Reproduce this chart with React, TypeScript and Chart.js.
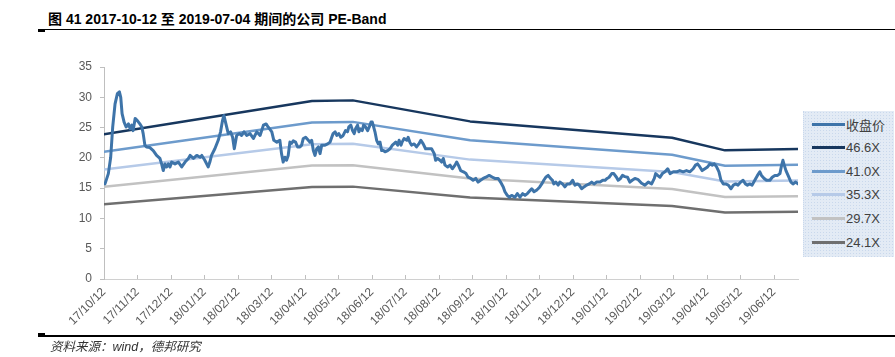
import React, { useEffect, useRef } from "react";
import { Chart, registerables } from "chart.js";
Chart.register(...registerables);

const TITLE = "图 41 2017-10-12 至 2019-07-04 期间的公司 PE-Band";
const SOURCE = "资料来源：wind，德邦研究";

// x axis: months since 2017-10-12 (one tick per month)
const monthLabels = [
  "17/10/12", "17/11/12", "17/12/12", "18/01/12", "18/02/12", "18/03/12", "18/04/12",
  "18/05/12", "18/06/12", "18/07/12", "18/08/12", "18/09/12", "18/10/12", "18/11/12",
  "18/12/12", "19/01/12", "19/02/12", "19/03/12", "19/04/12", "19/05/12", "19/06/12",
];
const xMax = 20.72; // 2019-07-04

const yTicks = { min: 0, max: 35, step: 5 };

// 收盘价 (close price), months since start / value
const priceMonths = [
  0.03, 0.13, 0.20, 0.26, 0.33, 0.40, 0.46, 0.50, 0.54, 0.60, 0.66, 0.73, 0.78, 0.83, 0.87, 0.93, 0.99, 1.07, 1.13, 1.17,
  1.22, 1.27, 1.37, 1.47, 1.57, 1.67, 1.72, 1.77, 1.82, 1.87, 1.92, 1.97, 2.02, 2.12, 2.22, 2.32, 2.42, 2.52, 2.57, 2.67,
  2.77, 2.87, 2.92, 3.01, 3.11, 3.16, 3.21, 3.31, 3.41, 3.48, 3.54, 3.58, 3.64, 3.71, 3.78, 3.84, 3.89, 3.96, 4.04, 4.11,
  4.18, 4.26, 4.36, 4.46, 4.56, 4.66, 4.76, 4.84, 4.90, 5.01, 5.07, 5.16,
  5.25, 5.30, 5.35, 5.40, 5.45, 5.50, 5.55, 5.60, 5.65, 5.72, 5.78, 5.85, 5.90, 5.95, 6.02, 6.10, 6.15, 6.20, 6.25, 6.30,
  6.35, 6.40, 6.45, 6.50, 6.60, 6.68, 6.75, 6.80, 6.84, 6.90, 6.95, 7.01, 7.07, 7.14, 7.21, 7.27, 7.31, 7.37, 7.42, 7.47,
  7.51, 7.57, 7.61, 7.65, 7.71, 7.75, 7.81, 7.87, 7.92, 7.97, 8.01, 8.05, 8.09, 8.14, 8.19, 8.24, 8.29, 8.34, 8.39, 8.47,
  8.54, 8.61, 8.67, 8.71, 8.77, 8.81, 8.87, 8.90, 8.96, 9.04, 9.08, 9.13, 9.18, 9.26, 9.33, 9.40, 9.46, 9.53, 9.60, 9.68,
  9.78, 9.86, 9.90, 9.96, 10.03, 10.08, 10.13, 10.18, 10.26, 10.33, 10.40,
  10.48, 10.53, 10.58, 10.65, 10.73, 10.81, 10.87, 10.95, 11.02, 11.10, 11.17, 11.24, 11.32, 11.40, 11.50, 11.60, 11.67, 11.77, 11.84, 11.92,
  11.97, 12.04, 12.10, 12.17, 12.27, 12.34, 12.42, 12.50, 12.57, 12.64, 12.72, 12.77, 12.84, 12.90, 12.96, 13.01, 13.07, 13.13, 13.19, 13.26,
  13.33, 13.39, 13.43, 13.49, 13.56, 13.61, 13.69, 13.76, 13.83, 13.91, 13.99, 14.06, 14.13, 14.19, 14.26, 14.33, 14.41, 14.49, 14.56, 14.63,
  14.71, 14.81, 14.89, 14.96, 15.02, 15.08, 15.16, 15.22, 15.30, 15.35, 15.42, 15.48, 15.55,
  15.63, 15.70, 15.77, 15.85, 15.95, 16.05, 16.15, 16.25, 16.35, 16.43, 16.47, 16.53, 16.60, 16.67, 16.75, 16.83, 16.90, 17.00, 17.10, 17.19,
  17.29, 17.39, 17.49, 17.59, 17.66, 17.72, 17.79, 17.86, 17.94, 18.02, 18.09, 18.16, 18.22, 18.29, 18.36, 18.42, 18.49, 18.56, 18.64, 18.72,
  18.79, 18.86, 18.93, 19.01, 19.08, 19.15, 19.21, 19.28, 19.35, 19.43, 19.51, 19.58, 19.63, 19.71, 19.78, 19.88, 19.95, 20.03, 20.11, 20.18,
  20.22, 20.27, 20.31, 20.36, 20.44, 20.51, 20.57, 20.65, 20.72,
];
const priceValues = [
  15.7, 17.4, 20.1, 25.1, 28.9, 30.6, 30.9, 30.0, 27.3, 25.9, 25.1, 25.6, 24.8, 25.4, 24.5, 26.5, 26.2, 25.6, 25.1, 24.0,
  22.1, 21.8, 21.7, 21.2, 20.4, 19.9, 19.0, 17.9, 19.0, 18.5, 19.0, 18.5, 19.3, 19.0, 19.3, 18.5, 19.3, 19.9, 20.4, 19.9,
  20.4, 20.1, 20.4, 19.6, 18.5, 19.3, 20.4, 21.5, 22.9, 24.3, 26.2, 27.0, 25.6, 24.0, 24.3, 23.4, 21.5, 23.7, 24.0, 23.7,
  24.3, 23.7, 24.0, 23.2, 24.3, 23.7, 25.4, 25.6, 25.1, 24.3, 22.9, 22.6,
  22.9, 20.7, 19.3, 20.1, 19.6, 20.4, 22.6, 22.4, 22.8, 22.6, 21.8, 21.8, 22.1, 23.2, 23.4, 22.9, 22.6, 22.9, 21.2, 20.4,
  21.5, 21.8, 20.7, 22.1, 22.1, 22.3, 22.6, 23.4, 24.0, 24.3, 23.7, 24.0, 23.4, 23.7, 24.5, 24.3, 25.1, 25.4, 24.5, 24.0,
  24.8, 25.4, 24.3, 24.8, 24.5, 25.4, 25.1, 24.5, 25.1, 25.9, 25.9, 25.1, 24.3, 22.9, 22.3, 22.6, 21.2, 21.2, 21.0, 21.2,
  21.5, 22.1, 22.4, 22.6, 22.1, 22.9, 22.1, 22.6, 23.2, 22.9, 23.4, 22.6, 22.1, 22.3, 21.8, 22.3, 22.9, 22.3, 21.5, 21.5,
  21.5, 20.7, 19.6, 19.9, 19.6, 19.3, 19.9, 18.8, 18.5, 18.8, 18.2,
  18.8, 19.3, 18.8, 17.9, 17.7, 17.4, 16.8, 16.6, 16.3, 16.6, 16.0, 16.3, 16.6, 16.8, 17.1, 16.8, 16.6, 16.6, 16.0, 15.2,
  14.4, 13.8, 13.5, 13.8, 13.5, 14.1, 13.5, 14.1, 13.8, 14.1, 14.6, 14.9, 14.4, 14.6, 14.9, 15.2, 15.7, 16.3, 16.8, 17.1,
  16.6, 16.3, 15.7, 16.0, 15.5, 16.0, 15.7, 15.2, 15.7, 15.7, 16.3, 15.5, 15.7, 15.5, 14.9, 15.2, 15.5, 15.7, 16.0, 15.7,
  16.0, 16.0, 16.3, 16.3, 16.6, 16.8, 17.4, 17.4, 16.8, 16.3, 16.6, 17.1, 16.9,
  16.8, 16.0, 16.3, 16.6, 16.4, 15.8, 15.5, 16.0, 15.7, 16.6, 17.4, 17.1, 16.8, 17.4, 17.7, 18.2, 17.4, 17.7, 17.7, 17.9,
  17.7, 17.9, 17.7, 18.2, 18.8, 19.0, 18.5, 17.9, 18.2, 18.5, 19.0, 18.8, 19.0, 18.5, 17.7, 16.3, 15.7, 15.7, 15.5, 14.9,
  15.5, 15.7, 15.5, 16.0, 16.3, 15.7, 15.5, 15.7, 15.5, 16.3, 17.1, 17.7, 17.1, 16.6, 16.3, 16.3, 16.8, 17.1, 17.1, 17.4,
  18.5, 19.6, 18.8, 17.9, 16.9, 16.0, 15.7, 16.0, 15.7,
];

// PE bands, knot dates (months since start)
const bandMonths = [0, 6.21, 7.43, 10.93, 16.96, 18.54, 20.72];
const band466 = [23.88, 29.37, 29.49, 26.02, 23.33, 21.24, 21.45];
const band410 = [21.01, 25.84, 25.94, 22.89, 20.52, 18.69, 18.87];
const band353 = [18.09, 22.25, 22.34, 19.71, 17.67, 16.09, 16.25];
const band297 = [15.22, 18.72, 18.79, 16.58, 14.87, 13.54, 13.67];
const band241 = [12.35, 15.19, 15.25, 13.46, 12.06, 10.98, 11.09];

const seriesNames = ["收盘价", "46.6X", "41.0X", "35.3X", "29.7X", "24.1X"];
const seriesColors = ["#3E74A9", "#17375E", "#6D9BCC", "#B6CAE8", "#C2C2C2", "#6F6F6F"];
const seriesWidths = [3, 2.5, 2.5, 2.5, 2.5, 2.5];

const FONT = "'Liberation Sans', Arial, 'Noto Sans CJK SC', sans-serif";

const innerXTicks = {
  id: "innerXTicks",
  beforeDatasetsDraw(chart: any) {
    const sx = chart.scales.x;
    const ctx = chart.ctx;
    ctx.save();
    ctx.strokeStyle = "#BFBFBF";
    ctx.lineWidth = 1;
    sx.ticks.forEach((t: any) => {
      const px = Math.round(sx.getPixelForValue(t.value)) + 0.5;
      ctx.beginPath();
      ctx.moveTo(px, sx.top);
      ctx.lineTo(px, sx.top - 4);
      ctx.stroke();
    });
    ctx.restore();
  },
};

export default function App() {
  const ref = useRef<HTMLCanvasElement>(null);

  useEffect(() => {
    const zip = (xs: number[], ys: number[]) => xs.map((x, i) => ({ x, y: ys[i] }));
    const seriesData = [
      zip(priceMonths, priceValues),
      zip(bandMonths, band466),
      zip(bandMonths, band410),
      zip(bandMonths, band353),
      zip(bandMonths, band297),
      zip(bandMonths, band241),
    ];
    const chart = new Chart(ref.current!, {
      type: "line",
      data: {
        datasets: seriesNames.map((name, i) => ({
          label: name,
          data: seriesData[i],
          borderColor: seriesColors[i],
          backgroundColor: seriesColors[i],
          borderWidth: seriesWidths[i],
          pointRadius: 0,
          tension: 0,
          fill: false,
          borderJoinStyle: "round" as const,
          borderCapStyle: "round" as const,
        })),
      },
      options: {
        animation: false,
        responsive: false,
        events: [],
        layout: { padding: { left: 0, right: 97, top: 67, bottom: 0 } },
        plugins: { legend: { display: false }, tooltip: { enabled: false } },
        scales: {
          x: {
            type: "linear",
            min: 0,
            max: xMax,
            afterBuildTicks: (s: any) => {
              s.ticks = monthLabels.map((_, i) => ({ value: i }));
            },
            afterFit: (s: any) => {
              s.height = 78;
            },
            grid: { drawOnChartArea: false, drawTicks: false },
            border: { display: true, color: "#D0D0D0", width: 1 },
            ticks: {
              autoSkip: false,
              minRotation: 45,
              maxRotation: 45,
              padding: 6,
              color: "#595959",
              font: { family: FONT, size: 12 },
              callback: (v: any) => monthLabels[Math.round(Number(v))] ?? "",
            },
          },
          y: {
            min: yTicks.min,
            max: yTicks.max,
            afterFit: (s: any) => {
              s.width = 104;
            },
            grid: { drawOnChartArea: false, drawTicks: true, tickLength: 4, color: "#BFBFBF" },
            border: { display: true, color: "#BFBFBF", width: 1 },
            ticks: {
              stepSize: yTicks.step,
              padding: 8,
              color: "#595959",
              font: { family: FONT, size: 12 },
            },
          },
        },
      },
      plugins: [innerXTicks],
    });
    return () => chart.destroy();
  }, []);

  return (
    <div
      style={{
        position: "fixed",
        left: 0,
        top: 0,
        width: 895,
        height: 357,
        background: "#fff",
        fontFamily: FONT,
        overflow: "hidden",
      }}
    >
      <div
        style={{
          position: "absolute",
          left: 48,
          top: 11,
          fontSize: 14,
          fontWeight: "bold",
          color: "#000",
          whiteSpace: "nowrap",
          lineHeight: "16px",
        }}
      >
        {TITLE}
      </div>
      <div style={{ position: "absolute", left: 38, top: 28.5, width: 857, height: 1, background: "#000" }} />
      <div style={{ position: "absolute", left: 38, top: 29.5, width: 7, height: 2, background: "#000" }} />
      <canvas ref={ref} width={895} height={357} style={{ position: "absolute", left: 0, top: 0 }} />
      <div
        style={{
          position: "absolute",
          left: 803,
          top: 111,
          width: 90,
          height: 146,
          backgroundColor: "#E3EBF5",
          backgroundImage: "radial-gradient(#C9D8EC 0.8px, transparent 1px)",
          backgroundSize: "3px 3px",
          borderLeft: "1px dotted #C9D8EC",
        }}
      >
        {seriesNames.map((name, i) => (
          <div
            key={name}
            style={{ position: "absolute", left: 8, top: 4 + i * 23.6, height: 18, display: "flex", alignItems: "center" }}
          >
            <div style={{ width: 33, height: 3, background: seriesColors[i] }} />
            <span style={{ fontSize: 13, color: "#404040", marginLeft: 1, whiteSpace: "nowrap" }}>{name}</span>
          </div>
        ))}
      </div>
      <div style={{ position: "absolute", left: 38, top: 333, width: 7, height: 2, background: "#000" }} />
      <div style={{ position: "absolute", left: 38, top: 335, width: 857, height: 1.5, background: "#000" }} />
      <div
        style={{
          position: "absolute",
          left: 50,
          top: 339,
          fontSize: 12.5,
          fontStyle: "italic",
          color: "#333",
          whiteSpace: "nowrap",
          lineHeight: "16px",
        }}
      >
        {SOURCE}
      </div>
    </div>
  );
}
